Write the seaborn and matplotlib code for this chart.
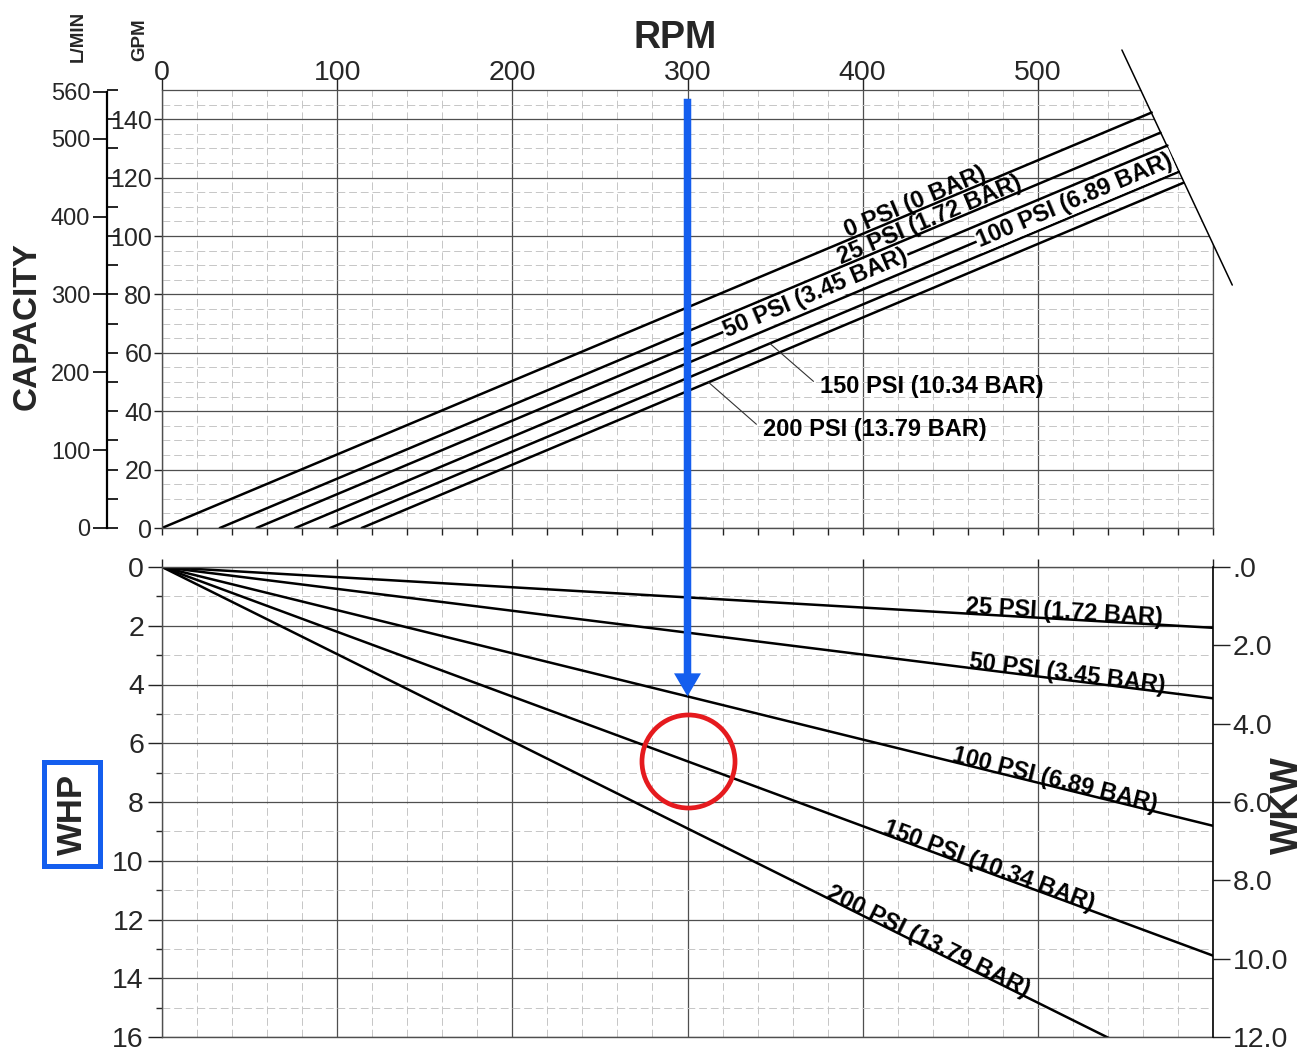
import numpy as np
import pandas as pd
import matplotlib
matplotlib.use("Agg")
import matplotlib.pyplot as plt
import matplotlib.transforms as mtransforms
import seaborn as sns
from matplotlib.patches import Polygon, ConnectionPatch
from matplotlib.ticker import MultipleLocator, FixedLocator, FixedFormatter, NullFormatter

# ------------------------------------------------------------------ data
cap_labels = ["0 PSI (0 BAR)", "25 PSI (1.72 BAR)", "50 PSI (3.45 BAR)",
              "100 PSI (6.89 BAR)", "150 PSI (10.34 BAR)", "200 PSI (13.79 BAR)"]
# capacity curves: zero flow on the RPM axis, end on the speed-limit line
cap_rpm_start = [0, 33, 54, 76, 96, 114]
cap_rpm_end = [565, 570, 574, 577, 580.5, 583]
cap_gpm_end = [142.3, 135.4, 131.0, 126.3, 122.0, 118.2]

# maximum speed line
limit_rpm = [548, 611]
limit_gpm = [163.7, 83.2]

# horsepower curves: from the origin to 600 RPM
hp_labels = ["25 PSI (1.72 BAR)", "50 PSI (3.45 BAR)", "100 PSI (6.89 BAR)",
             "150 PSI (10.34 BAR)", "200 PSI (13.79 BAR)"]
hp_rpm_end = [600, 600, 600, 600, 600]
hp_whp_end = [2.07, 4.47, 8.81, 13.23, 17.8]

rpm_ticks = [0, 100, 200, 300, 400, 500]
rpm_grid = [0, 100, 200, 300, 400, 500, 600]
gpm_ticks = [0, 20, 40, 60, 80, 100, 120, 140]
lmin_ticks = [0, 100, 200, 300, 400, 500, 560]
whp_ticks = [0, 2, 4, 6, 8, 10, 12, 14, 16]
wkw_ticks = [0, 2, 4, 6, 8, 10, 12]
wkw_ticklabels = [".0", "2.0", "4.0", "6.0", "8.0", "10.0", "12.0"]

rpm_max = 600
gpm_max = 150
whp_max = 16
lmin_per_gpm = 3.75
kw_per_hp = 0.75

# worked example: 300 RPM
example_rpm = 300
arrow_top_gpm = 147
arrow_curve = "100 PSI (6.89 BAR)"
circle_curve = "150 PSI (10.34 BAR)"

# label positions (RPM at label centre)
cap_inline_labels = {"0 PSI (0 BAR)": (432, "above"),
                     "25 PSI (1.72 BAR)": (440, "above"),
                     "50 PSI (3.45 BAR)": (373, "on"),
                     "100 PSI (6.89 BAR)": (521, "on")}
# leader labels: point on the curve (RPM) and text anchor (RPM, GPM)
cap_leader_labels = {"150 PSI (10.34 BAR)": (347, 375.6, 48.3),
                     "200 PSI (13.79 BAR)": (312, 343, 33.6)}
hp_label_rpm = [514.6, 516.5, 509, 471, 436]

# ------------------------------------------------------------------ style
sns.set_theme(style="ticks")
plt.rcParams["font.family"] = ["Liberation Sans", "DejaVu Sans"]

BLUE = "#145EEE"
RED = "#E51A1E"
GRID_MAJOR = dict(color="#4f4f4f", lw=0.9, ls="-")
GRID_MINOR = dict(color="#c6c6c6", lw=0.7, ls=(0, (8, 4)))
TICK_COLOR = "#222222"
LABEL_FONT = dict(fontsize=17, fontweight="bold", color="black")

W, H = 1307, 1049
fig = plt.figure(figsize=(W / 100, H / 100), dpi=100)


def rect(left, top, right, bottom):
    return [left / W, 1 - bottom / H, (right - left) / W, (bottom - top) / H]


ax1 = fig.add_axes(rect(162, 90, 1213, 528))
ax2 = fig.add_axes(rect(162, 567, 1213, 1037))

# ------------------------------------------------------------------ capacity chart
cap_rows = []
for lab, r0, r1, g1 in zip(cap_labels, cap_rpm_start, cap_rpm_end, cap_gpm_end):
    cap_rows.append({"rpm": r0, "gpm": 0.0, "pressure": lab})
    cap_rows.append({"rpm": r1, "gpm": g1, "pressure": lab})
cap_df = pd.DataFrame(cap_rows)
sns.lineplot(data=cap_df, x="rpm", y="gpm", units="pressure", estimator=None,
             color="black", lw=1.8, ax=ax1, legend=False, zorder=2)

ax1.set_xlim(0, rpm_max)
ax1.set_ylim(0, gpm_max)
ax1.set_xlabel("")
ax1.set_ylabel("")
ax1.set_axisbelow(True)

ax1.xaxis.set_major_locator(FixedLocator(rpm_grid))
ax1.xaxis.set_minor_locator(MultipleLocator(20))
ax1.yaxis.set_major_locator(FixedLocator(gpm_ticks))
ax1.yaxis.set_minor_locator(MultipleLocator(5))
ax1.grid(which="major", **GRID_MAJOR)
ax1.grid(which="minor", **GRID_MINOR)

for side in ["top", "right"]:
    ax1.spines[side].set_visible(False)
for side in ["left", "bottom"]:
    ax1.spines[side].set_color(GRID_MAJOR["color"])
    ax1.spines[side].set_linewidth(1.0)
# top and right frame lines (trimmed by the speed-limit line below)
ax1.axhline(gpm_max, clip_on=False, zorder=0.6, **GRID_MAJOR)
ax1.axvline(rpm_max, clip_on=False, zorder=0.6, **GRID_MAJOR)

ax1.tick_params(axis="x", which="both", bottom=True, top=False, labelbottom=False,
                labeltop=False, direction="out", length=5, width=1, color=TICK_COLOR)
ax1.tick_params(axis="y", which="major", left=True, right=False, length=6, width=1,
                color=TICK_COLOR, labelsize=18, pad=1)
ax1.tick_params(axis="y", which="minor", left=False, right=False)

top = ax1.secondary_xaxis("top")
top.set_xticks(rpm_ticks)
top.tick_params(length=9, width=1, color=TICK_COLOR, labelsize=20.5, pad=-6)
top.spines["top"].set_visible(False)

# blank out the grid beyond the speed-limit line
slope = (limit_gpm[1] - limit_gpm[0]) / (limit_rpm[1] - limit_rpm[0])


def limit_at_rpm(x):
    return limit_gpm[0] + slope * (x - limit_rpm[0])


def limit_at_gpm(g):
    return limit_rpm[0] + (g - limit_gpm[0]) / slope


y_hi = gpm_max + 3
x_hi = rpm_max + 3
mask = Polygon([(limit_at_gpm(y_hi), y_hi), (x_hi, y_hi), (x_hi, limit_at_rpm(x_hi))],
               closed=True, fc="white", ec="none", zorder=1.5, clip_on=False)
ax1.add_patch(mask)
ax1.plot(limit_rpm, limit_gpm, color="black", lw=1.1, clip_on=False, zorder=3)


def screen_angle(ax, xs, ys):
    p = ax.transData.transform(np.column_stack([xs, ys]))
    return np.degrees(np.arctan2(p[-1, 1] - p[0, 1], p[-1, 0] - p[0, 0]))


for lab, (rpm_c, mode) in cap_inline_labels.items():
    i = cap_labels.index(lab)
    xs = [cap_rpm_start[i], cap_rpm_end[i]]
    ys = [0.0, cap_gpm_end[i]]
    ang = screen_angle(ax1, xs, ys)
    y_c = np.interp(rpm_c, xs, ys)
    if mode == "above":
        d = 1.5
        tr = mtransforms.offset_copy(ax1.transData, fig=fig,
                                     x=-np.sin(np.radians(ang)) * d,
                                     y=np.cos(np.radians(ang)) * d, units="points")
        ax1.text(rpm_c, y_c, lab, rotation=ang, rotation_mode="anchor",
                 ha="center", va="baseline", transform=tr, zorder=4, **LABEL_FONT)
    else:
        ax1.text(rpm_c, y_c, lab, rotation=ang, rotation_mode="anchor",
                 ha="center", va="center", zorder=4,
                 bbox=dict(boxstyle="square,pad=0.05", fc="white", ec="none"),
                 **LABEL_FONT)

for lab, (rpm_pt, tx, ty) in cap_leader_labels.items():
    i = cap_labels.index(lab)
    xs = [cap_rpm_start[i], cap_rpm_end[i]]
    ys = [0.0, cap_gpm_end[i]]
    ax1.annotate(lab, xy=(rpm_pt, np.interp(rpm_pt, xs, ys)), xytext=(tx, ty),
                 ha="left", va="center", zorder=4,
                 arrowprops=dict(arrowstyle="-", lw=0.8, color="#333333",
                                 shrinkA=3, shrinkB=0, relpos=(0, 0.5)),
                 **LABEL_FONT)

# capacity scale in L/MIN and GPM tick marks
scale_ax = fig.add_axes(rect(107, 90, 107.01, 528))
scale_ax.set_ylim(0, gpm_max * lmin_per_gpm)
scale_ax.patch.set_visible(False)
scale_ax.xaxis.set_visible(False)
for side in ["top", "right", "bottom"]:
    scale_ax.spines[side].set_visible(False)
scale_ax.spines["left"].set_linewidth(1.6)
scale_ax.spines["left"].set_color("black")
scale_ax.spines["left"].set_bounds(0, 560)
scale_ax.set_yticks(lmin_ticks)
scale_ax.tick_params(axis="y", left=True, right=False, length=10, width=1.2,
                     color="black", labelsize=17, pad=2)

gpm_marks = scale_ax.twinx()
gpm_marks.set_ylim(0, gpm_max)
gpm_marks.patch.set_visible(False)
gpm_marks.xaxis.set_visible(False)
for side in gpm_marks.spines:
    gpm_marks.spines[side].set_visible(False)
gpm_marks.yaxis.set_major_locator(MultipleLocator(10))
gpm_marks.yaxis.set_major_formatter(NullFormatter())
gpm_marks.tick_params(axis="y", right=True, left=False, length=8, width=1.2,
                      color="black")

# ------------------------------------------------------------------ horsepower chart
hp_rows = []
for lab, r1, w1 in zip(hp_labels, hp_rpm_end, hp_whp_end):
    hp_rows.append({"rpm": 0, "whp": 0.0, "pressure": lab})
    hp_rows.append({"rpm": r1, "whp": w1, "pressure": lab})
hp_df = pd.DataFrame(hp_rows)
sns.lineplot(data=hp_df, x="rpm", y="whp", units="pressure", estimator=None,
             color="black", lw=1.8, ax=ax2, legend=False, zorder=2)

ax2.set_xlim(0, rpm_max)
ax2.set_ylim(whp_max, 0)
ax2.set_xlabel("")
ax2.set_ylabel("")
ax2.set_axisbelow(True)
ax2.xaxis.set_major_locator(FixedLocator(rpm_grid))
ax2.xaxis.set_minor_locator(MultipleLocator(20))
ax2.yaxis.set_major_locator(FixedLocator(whp_ticks))
ax2.yaxis.set_minor_locator(MultipleLocator(1))
ax2.grid(which="major", **GRID_MAJOR)
ax2.grid(which="minor", **GRID_MINOR)
for side in ["left", "top", "bottom"]:
    ax2.spines[side].set_color(GRID_MAJOR["color"])
    ax2.spines[side].set_linewidth(1.0)
ax2.spines["right"].set_visible(False)

ax2.tick_params(axis="x", which="major", top=True, bottom=False, labeltop=False,
                labelbottom=False, length=6, width=1, color=TICK_COLOR)
ax2.tick_params(axis="x", which="minor", top=False, bottom=False)
ax2.tick_params(axis="y", which="major", left=True, right=False, length=10, width=1,
                color=TICK_COLOR, labelsize=20.5, pad=3)
ax2.tick_params(axis="y", which="minor", left=False, right=False)

kw_ax = ax2.twinx()
kw_ax.set_ylim(whp_max * kw_per_hp, 0)
kw_ax.yaxis.set_major_locator(FixedLocator(wkw_ticks))
kw_ax.yaxis.set_major_formatter(FixedFormatter(wkw_ticklabels))
kw_ax.grid(False)
for side in ["left", "top", "bottom"]:
    kw_ax.spines[side].set_visible(False)
kw_ax.spines["right"].set_color("black")
kw_ax.spines["right"].set_linewidth(1.2)
kw_ax.tick_params(axis="y", right=True, left=False, length=12, width=1,
                  color=TICK_COLOR, labelsize=20.5, pad=2)

for lab, rpm_c in zip(hp_labels, hp_label_rpm):
    i = hp_labels.index(lab)
    xs = [0, hp_rpm_end[i]]
    ys = [0.0, hp_whp_end[i]]
    ang = screen_angle(ax2, xs, ys)
    ax2.text(rpm_c, np.interp(rpm_c, xs, ys), lab, rotation=ang,
             rotation_mode="anchor", ha="center", va="baseline", zorder=4,
             **LABEL_FONT)

# worked example: arrow from the RPM scale down to the power curve, circle on another
ia = hp_labels.index(arrow_curve)
arrow_whp = np.interp(example_rpm, [0, hp_rpm_end[ia]], [0, hp_whp_end[ia]])
arrow = ConnectionPatch(xyA=(example_rpm, arrow_top_gpm), coordsA=ax1.transData,
                        xyB=(example_rpm, arrow_whp), coordsB=ax2.transData,
                        arrowstyle="simple,head_length=1.66,head_width=1.94,tail_width=0.54",
                        mutation_scale=10, fc=BLUE, ec="none", lw=0, zorder=6)
fig.add_artist(arrow)

ic = hp_labels.index(circle_curve)
circle_whp = np.interp(example_rpm, [0, hp_rpm_end[ic]], [0, hp_whp_end[ic]])
ax2.plot([example_rpm], [circle_whp], marker="o", ms=67, mfc="none", mec=RED,
         mew=3.4, clip_on=False, zorder=6)

# ------------------------------------------------------------------ titles
fig.text(675 / W, 1 - 38 / H, "RPM", fontsize=27, fontweight="bold",
         ha="center", va="center")
fig.text(27 / W, 1 - 326 / H, "CAPACITY", fontsize=24, fontweight="bold",
         rotation=90, ha="center", va="center")
fig.text(78 / W, 1 - 36 / H, "L/MIN", fontsize=13.5, fontweight="bold",
         rotation=90, ha="center", va="center")
fig.text(140 / W, 1 - 40 / H, "GPM", fontsize=13.5, fontweight="bold",
         rotation=90, ha="center", va="center")
fig.text(1288 / W, 1 - 805 / H, "WKW", fontsize=27, fontweight="bold",
         rotation=90, ha="center", va="center")
fig.text(72 / W, 1 - 814 / H, "WHP", fontsize=25, fontweight="bold",
         rotation=90, ha="center", va="center",
         bbox=dict(boxstyle="square,pad=0.33", fc="white", ec=BLUE, lw=3.6))

fig.savefig("out.png", dpi=100)
